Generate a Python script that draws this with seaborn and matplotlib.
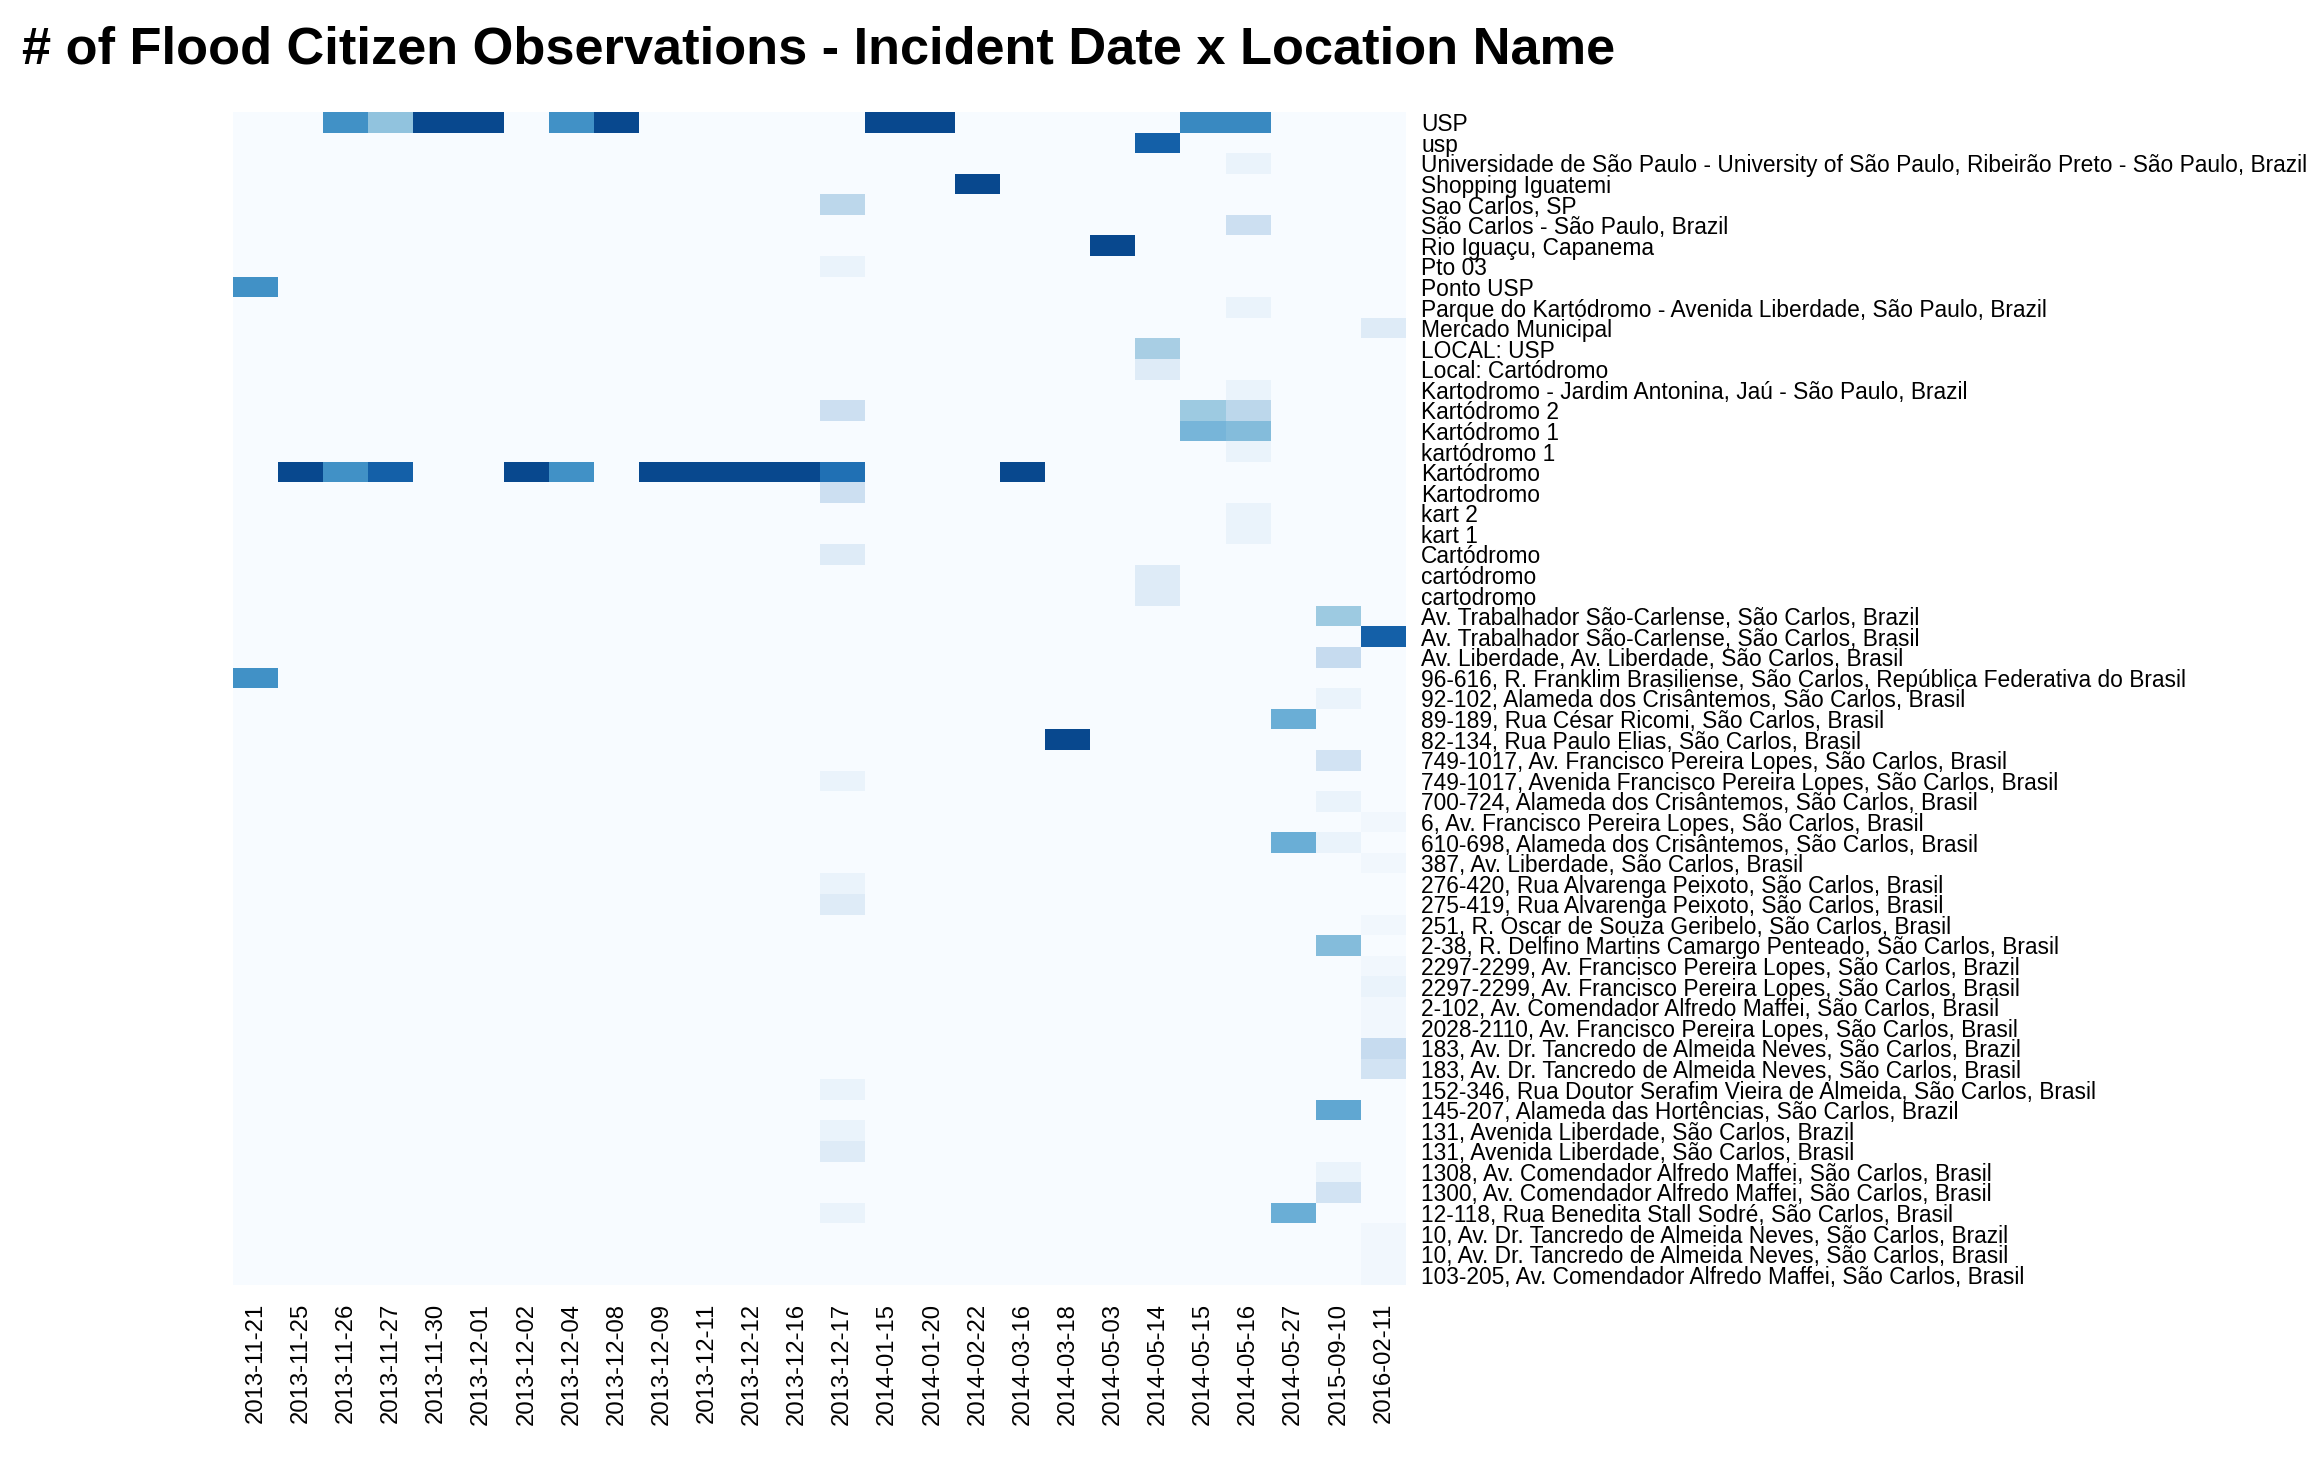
import numpy as np
import pandas as pd
import matplotlib
matplotlib.use("Agg")
import matplotlib.pyplot as plt
import seaborn as sns

plt.rcParams["font.family"] = ["Liberation Sans", "DejaVu Sans"]

TITLE = "# of Flood Citizen Observations - Incident Date x Location Name"

dates = [
    "2013-11-21", "2013-11-25", "2013-11-26", "2013-11-27", "2013-11-30",
    "2013-12-01", "2013-12-02", "2013-12-04", "2013-12-08", "2013-12-09",
    "2013-12-11", "2013-12-12", "2013-12-16", "2013-12-17", "2014-01-15",
    "2014-01-20", "2014-02-22", "2014-03-16", "2014-03-18", "2014-05-03",
    "2014-05-14", "2014-05-15", "2014-05-16", "2014-05-27", "2015-09-10",
    "2016-02-11",
]

locations = [
    "USP",
    "usp",
    "Universidade de São Paulo - University of São Paulo, Ribeirão Preto - São Paulo, Brazil",
    "Shopping Iguatemi",
    "Sao Carlos, SP",
    "São Carlos - São Paulo, Brazil",
    "Rio Iguaçu, Capanema",
    "Pto 03",
    "Ponto USP",
    "Parque do Kartódromo - Avenida Liberdade, São Paulo, Brazil",
    "Mercado Municipal",
    "LOCAL: USP",
    "Local: Cartódromo",
    "Kartodromo - Jardim Antonina, Jaú - São Paulo, Brazil",
    "Kartódromo 2",
    "Kartódromo 1",
    "kartódromo 1",
    "Kartódromo",
    "Kartodromo",
    "kart 2",
    "kart 1",
    "Cartódromo",
    "cartódromo",
    "cartodromo",
    "Av. Trabalhador São-Carlense, São Carlos, Brazil",
    "Av. Trabalhador São-Carlense, São Carlos, Brasil",
    "Av. Liberdade, Av. Liberdade, São Carlos, Brasil",
    "96-616, R. Franklim Brasiliense, São Carlos, República Federativa do Brasil",
    "92-102, Alameda dos Crisântemos, São Carlos, Brasil",
    "89-189, Rua César Ricomi, São Carlos, Brasil",
    "82-134, Rua Paulo Elias, São Carlos, Brasil",
    "749-1017, Av. Francisco Pereira Lopes, São Carlos, Brasil",
    "749-1017, Avenida Francisco Pereira Lopes, São Carlos, Brasil",
    "700-724, Alameda dos Crisântemos, São Carlos, Brasil",
    "6, Av. Francisco Pereira Lopes, São Carlos, Brasil",
    "610-698, Alameda dos Crisântemos, São Carlos, Brasil",
    "387, Av. Liberdade, São Carlos, Brasil",
    "276-420, Rua Alvarenga Peixoto, São Carlos, Brasil",
    "275-419, Rua Alvarenga Peixoto, São Carlos, Brasil",
    "251, R. Oscar de Souza Geribelo, São Carlos, Brasil",
    "2-38, R. Delfino Martins Camargo Penteado, São Carlos, Brasil",
    "2297-2299, Av. Francisco Pereira Lopes, São Carlos, Brazil",
    "2297-2299, Av. Francisco Pereira Lopes, São Carlos, Brasil",
    "2-102, Av. Comendador Alfredo Maffei, São Carlos, Brasil",
    "2028-2110, Av. Francisco Pereira Lopes, São Carlos, Brasil",
    "183, Av. Dr. Tancredo de Almeida Neves, São Carlos, Brazil",
    "183, Av. Dr. Tancredo de Almeida Neves, São Carlos, Brasil",
    "152-346, Rua Doutor Serafim Vieira de Almeida, São Carlos, Brasil",
    "145-207, Alameda das Hortências, São Carlos, Brazil",
    "131, Avenida Liberdade, São Carlos, Brazil",
    "131, Avenida Liberdade, São Carlos, Brasil",
    "1308, Av. Comendador Alfredo Maffei, São Carlos, Brasil",
    "1300, Av. Comendador Alfredo Maffei, São Carlos, Brasil",
    "12-118, Rua Benedita Stall Sodré, São Carlos, Brasil",
    "10, Av. Dr. Tancredo de Almeida Neves, São Carlos, Brazil",
    "10, Av. Dr. Tancredo de Almeida Neves, São Carlos, Brasil",
    "103-205, Av. Comendador Alfredo Maffei, São Carlos, Brasil",
]

# observations: location index, date, count
obs_location = [
    0, 0, 0, 0, 0, 0, 0, 0, 0, 0,
    1, 2, 3, 4, 5, 6, 7, 8, 9, 10, 11, 12, 13,
    14, 14, 14, 15, 15, 16,
    17, 17, 17, 17, 17, 17, 17, 17, 17, 17, 17,
    18, 19, 20, 21, 22, 23, 24, 25, 26, 27, 28, 29, 30, 31, 32, 33, 34,
    35, 35, 36, 37, 38, 39, 40, 41, 42, 43, 44, 45, 46, 47, 48, 49, 50,
    51, 52, 53, 53, 54, 55, 56,
]
obs_date = [
    "2013-11-26", "2013-11-27", "2013-11-30", "2013-12-01", "2013-12-04",
    "2013-12-08", "2014-01-15", "2014-01-20", "2014-05-15", "2014-05-16",
    "2014-05-14", "2014-05-16", "2014-02-22", "2013-12-17", "2014-05-16",
    "2014-05-03", "2013-12-17", "2013-11-21", "2014-05-16", "2016-02-11",
    "2014-05-14", "2014-05-14", "2014-05-16",
    "2013-12-17", "2014-05-15", "2014-05-16", "2014-05-15", "2014-05-16",
    "2014-05-16",
    "2013-11-25", "2013-11-26", "2013-11-27", "2013-12-02", "2013-12-04",
    "2013-12-09", "2013-12-11", "2013-12-12", "2013-12-16", "2013-12-17",
    "2014-03-16",
    "2013-12-17", "2014-05-16", "2014-05-16", "2013-12-17", "2014-05-14",
    "2014-05-14", "2015-09-10", "2016-02-11", "2015-09-10", "2013-11-21",
    "2015-09-10", "2014-05-27", "2014-03-18", "2015-09-10", "2013-12-17",
    "2015-09-10", "2016-02-11",
    "2014-05-27", "2015-09-10", "2016-02-11", "2013-12-17", "2013-12-17",
    "2016-02-11", "2015-09-10", "2016-02-11", "2016-02-11", "2016-02-11",
    "2016-02-11", "2016-02-11", "2016-02-11", "2013-12-17", "2015-09-10",
    "2013-12-17", "2013-12-17",
    "2015-09-10", "2015-09-10", "2013-12-17", "2014-05-27", "2016-02-11",
    "2016-02-11", "2016-02-11",
]
obs_count = [
    20, 13, 29, 29, 20, 29, 29, 29, 21, 21,
    26, 2, 29, 9, 7, 29, 2, 20, 2, 4, 11, 4, 2,
    7, 12, 9, 15, 14, 2,
    29, 20, 26, 29, 20, 29, 29, 29, 29, 24, 29,
    7, 2, 2, 4, 4, 4, 12, 26, 8, 20, 2, 16, 29, 6, 2, 2, 1,
    16, 2, 1, 2, 4, 1, 14, 1, 2, 1, 1, 8, 6, 2, 17, 2, 4,
    2, 6, 2, 16, 1, 1, 1,
]

df = pd.DataFrame({
    "Location": [locations[i] for i in obs_location],
    "Date": obs_date,
    "Count": obs_count,
})
table = (df.pivot_table(index="Location", columns="Date", values="Count",
                        aggfunc="sum", fill_value=0)
           .reindex(index=locations, columns=dates, fill_value=0))

W, H = 2316, 1458
fig = plt.figure(figsize=(W / 100, H / 100), dpi=100)
left, right, top, bottom = 233, 1406, 112, 1285
ax = fig.add_axes([left / W, 1 - bottom / H, (right - left) / W, (bottom - top) / H])

sns.heatmap(table, cmap="Blues", vmin=0, vmax=32, cbar=False, ax=ax,
            xticklabels=True, yticklabels=True)

ax.set_xlabel("")
ax.set_ylabel("")
ax.yaxis.tick_right()
ax.yaxis.set_label_position("right")
ax.tick_params(axis="y", length=0, pad=11, labelsize=16.4, labelrotation=0)
ax.tick_params(axis="x", length=0, pad=13, labelsize=17.2, labelrotation=90)
for lab in ax.get_yticklabels():
    lab.set_horizontalalignment("left")

fig.text(22 / W, 1 - 64 / H, TITLE, fontsize=37.7, fontweight="bold",
         ha="left", va="baseline", color="black")

fig.savefig("out.png", dpi=100, facecolor="white")
